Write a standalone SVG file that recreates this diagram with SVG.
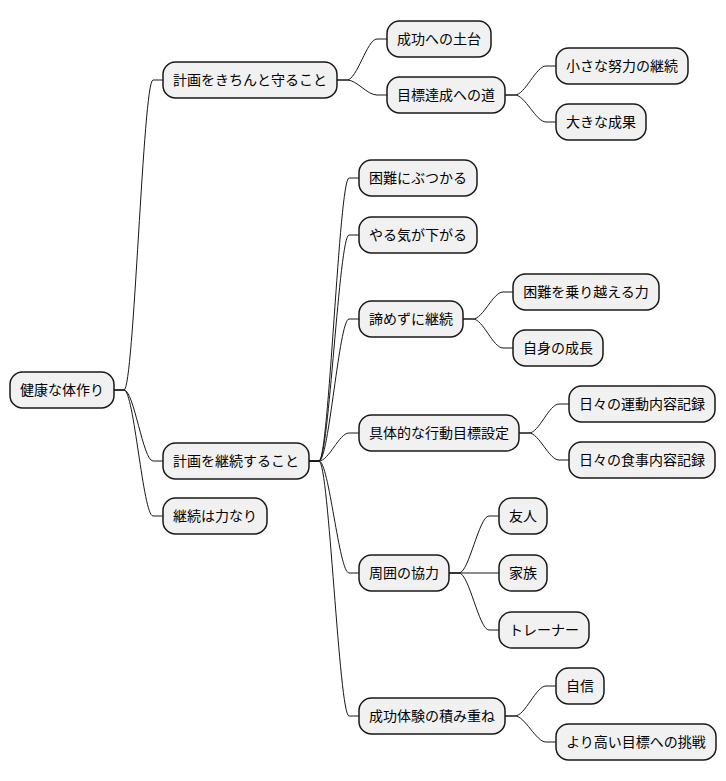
<svg xmlns="http://www.w3.org/2000/svg" width="726" height="781" viewBox="0 0 726 781">
<style>
.n rect{fill:#F1F1F1;stroke:#181818;stroke-width:1.5}
.n text{font-family:"Noto Sans CJK JP","Noto Sans",sans-serif;font-size:14px;fill:#000;text-anchor:middle}
#links path{fill:none;stroke:#181818;stroke-width:1}
</style>
<rect width="726" height="781" fill="#FFFFFF"/>
<g id="links">
<path d="M114,390 L124,390 C134,390 143,80 153,80 L163,80"/>
<path d="M114,390 L124,390 C134,390 143,461 153,461 L163,461"/>
<path d="M114,390 L124,390 C134,390 143,516 153,516 L163,516"/>
<path d="M337,80 L347,80 C357,80 367,39 377,39 L387,39"/>
<path d="M337,80 L347,80 C357,80 367,95 377,95 L387,95"/>
<path d="M505,95 L515,95 C525,95 536,66 546,66 L556,66"/>
<path d="M505,95 L515,95 C525,95 536,122 546,122 L556,122"/>
<path d="M309,461 L319,461 C329,461 339,178 349,178 L359,178"/>
<path d="M309,461 L319,461 C329,461 339,235 349,235 L359,235"/>
<path d="M309,461 L319,461 C329,461 339,319 349,319 L359,319"/>
<path d="M309,461 L319,461 C329,461 339,433 349,433 L359,433"/>
<path d="M309,461 L319,461 C329,461 339,573 349,573 L359,573"/>
<path d="M309,461 L319,461 C329,461 339,716 349,716 L359,716"/>
<path d="M463,319 L473,319 C483,319 493,292 503,292 L513,292"/>
<path d="M463,319 L473,319 C483,319 493,348 503,348 L513,348"/>
<path d="M519,433 L529,433 C539,433 549,404 559,404 L569,404"/>
<path d="M519,433 L529,433 C539,433 549,460 559,460 L569,460"/>
<path d="M449,573 L459,573 C469,573 479,516 489,516 L499,516"/>
<path d="M449,573 L459,573 C469,573 479,573 489,573 L499,573"/>
<path d="M449,573 L459,573 C469,573 479,630 489,630 L499,630"/>
<path d="M505,716 L515,716 C525,716 536,686 546,686 L556,686"/>
<path d="M505,716 L515,716 C525,716 536,742 546,742 L556,742"/>
</g>
<g id="root" class="n"><rect x="10" y="372" width="104" height="36" rx="12.5"/><text x="62" y="395">健康な体作り</text></g>
<g id="a" class="n"><rect x="163" y="62" width="174" height="36" rx="12.5"/><text x="250" y="85">計画をきちんと守ること</text></g>
<g id="a1" class="n"><rect x="387" y="21" width="104" height="36" rx="12.5"/><text x="439" y="44">成功への土台</text></g>
<g id="a2" class="n"><rect x="387" y="77" width="118" height="36" rx="12.5"/><text x="446" y="100">目標達成への道</text></g>
<g id="a2a" class="n"><rect x="556" y="48" width="132" height="36" rx="12.5"/><text x="622" y="71">小さな努力の継続</text></g>
<g id="a2b" class="n"><rect x="556" y="104" width="90" height="36" rx="12.5"/><text x="601" y="127">大きな成果</text></g>
<g id="b" class="n"><rect x="163" y="443" width="146" height="36" rx="12.5"/><text x="236" y="466">計画を継続すること</text></g>
<g id="c" class="n"><rect x="163" y="498" width="104" height="36" rx="12.5"/><text x="215" y="521">継続は力なり</text></g>
<g id="b1" class="n"><rect x="359" y="160" width="118" height="36" rx="12.5"/><text x="418" y="183">困難にぶつかる</text></g>
<g id="b2" class="n"><rect x="359" y="217" width="118" height="36" rx="12.5"/><text x="418" y="240">やる気が下がる</text></g>
<g id="b3" class="n"><rect x="359" y="301" width="104" height="36" rx="12.5"/><text x="411" y="324">諦めずに継続</text></g>
<g id="b3a" class="n"><rect x="513" y="274" width="146" height="36" rx="12.5"/><text x="586" y="297">困難を乗り越える力</text></g>
<g id="b3b" class="n"><rect x="513" y="330" width="90" height="36" rx="12.5"/><text x="558" y="353">自身の成長</text></g>
<g id="b4" class="n"><rect x="359" y="415" width="160" height="36" rx="12.5"/><text x="439" y="438">具体的な行動目標設定</text></g>
<g id="b4a" class="n"><rect x="569" y="386" width="146" height="36" rx="12.5"/><text x="642" y="409">日々の運動内容記録</text></g>
<g id="b4b" class="n"><rect x="569" y="442" width="146" height="36" rx="12.5"/><text x="642" y="465">日々の食事内容記録</text></g>
<g id="b5" class="n"><rect x="359" y="555" width="90" height="36" rx="12.5"/><text x="404" y="578">周囲の協力</text></g>
<g id="b5a" class="n"><rect x="499" y="498" width="48" height="36" rx="12.5"/><text x="523" y="521">友人</text></g>
<g id="b5b" class="n"><rect x="499" y="555" width="48" height="36" rx="12.5"/><text x="523" y="578">家族</text></g>
<g id="b5c" class="n"><rect x="499" y="612" width="90" height="36" rx="12.5"/><text x="544" y="635">トレーナー</text></g>
<g id="b6" class="n"><rect x="359" y="698" width="146" height="36" rx="12.5"/><text x="432" y="721">成功体験の積み重ね</text></g>
<g id="b6a" class="n"><rect x="556" y="668" width="48" height="36" rx="12.5"/><text x="580" y="691">自信</text></g>
<g id="b6b" class="n"><rect x="556" y="724" width="160" height="36" rx="12.5"/><text x="636" y="747">より高い目標への挑戦</text></g>
</svg>
